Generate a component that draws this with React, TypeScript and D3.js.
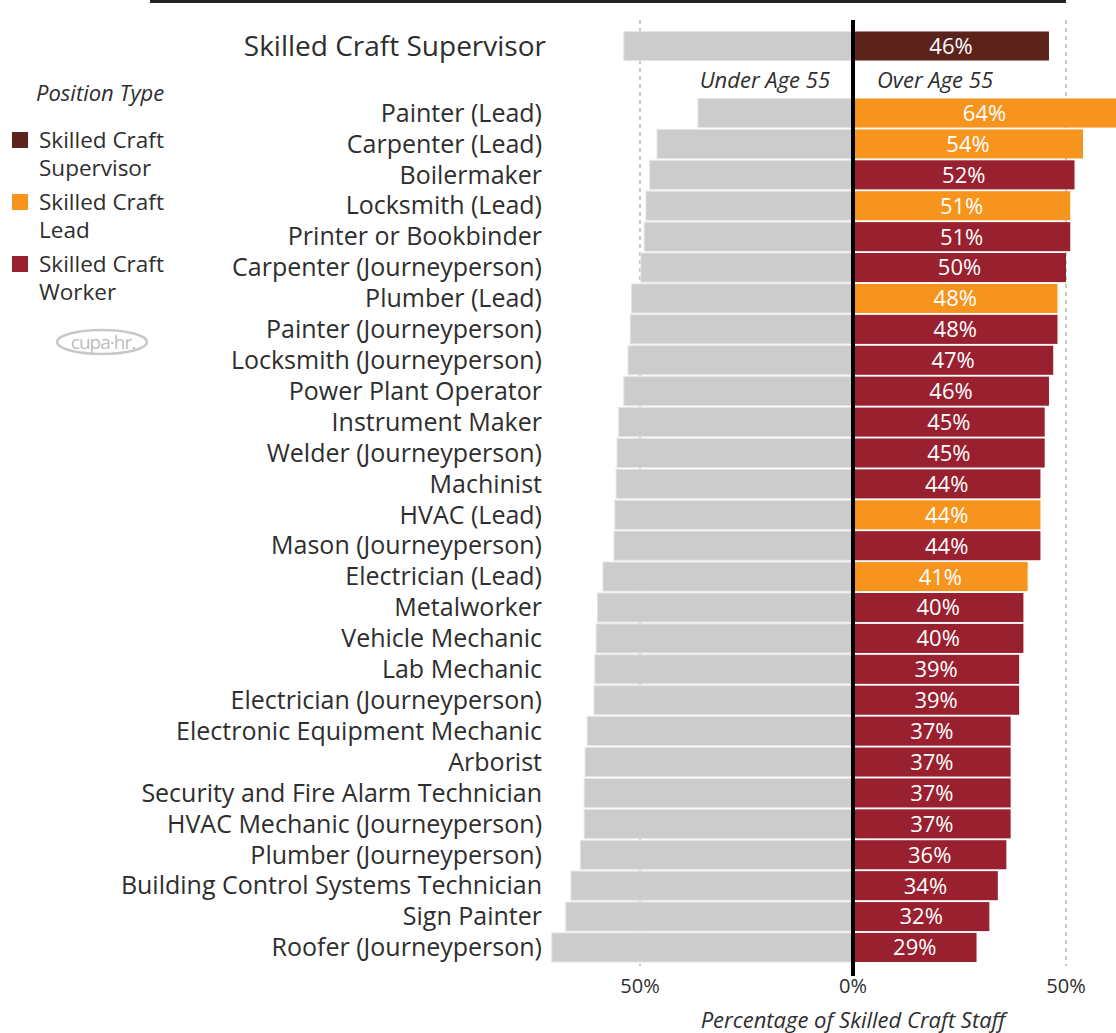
import React from 'react'
import * as d3 from 'd3'

// rows below the supervisor bar, top to bottom
const jobs = [
  'Painter (Lead)',
  'Carpenter (Lead)',
  'Boilermaker',
  'Locksmith (Lead)',
  'Printer or Bookbinder',
  'Carpenter (Journeyperson)',
  'Plumber (Lead)',
  'Painter (Journeyperson)',
  'Locksmith (Journeyperson)',
  'Power Plant Operator',
  'Instrument Maker',
  'Welder (Journeyperson)',
  'Machinist',
  'HVAC (Lead)',
  'Mason (Journeyperson)',
  'Electrician (Lead)',
  'Metalworker',
  'Vehicle Mechanic',
  'Lab Mechanic',
  'Electrician (Journeyperson)',
  'Electronic Equipment Mechanic',
  'Arborist',
  'Security and Fire Alarm Technician',
  'HVAC Mechanic (Journeyperson)',
  'Plumber (Journeyperson)',
  'Building Control Systems Technician',
  'Sign Painter',
  'Roofer (Journeyperson)',
]
const overAge = [64, 54, 52, 51, 51, 50, 48, 48, 47, 46, 45, 45, 44, 44, 44, 41, 40, 40, 39, 39, 37, 37, 37, 37, 36, 34, 32, 29]
const underAge = [36.4, 46, 47.7, 48.6, 49, 49.8, 52, 52.3, 52.8, 53.8, 55, 55.4, 55.6, 55.9, 56.1, 58.7, 60, 60.3, 60.6, 60.8, 62.4, 62.9, 63.1, 63.1, 64, 66.2, 67.4, 70.7]
const positionType = ['lead', 'lead', 'worker', 'lead', 'worker', 'worker', 'lead', 'worker', 'worker', 'worker', 'worker', 'worker', 'worker', 'lead', 'worker', 'lead', 'worker', 'worker', 'worker', 'worker', 'worker', 'worker', 'worker', 'worker', 'worker', 'worker', 'worker', 'worker']

const supervisorLabel = 'Skilled Craft Supervisor'
const supervisorOver = 46
const supervisorUnder = 53.8

const legendTypes = ['supervisor', 'lead', 'worker']
const legendLines = [['Skilled Craft', 'Supervisor'], ['Skilled Craft', 'Lead'], ['Skilled Craft', 'Worker']]
const ticks = [-50, 0, 50]

const colors: any = {supervisor: '#5b231c', lead: '#f7941e', worker: '#99202e'}
const grey = '#cccccc'
const textColor = '#2e2e2e'
const font = '"Open Sans", sans-serif'

function App() {
  const width = 1116
  const height = 1033
  const x = d3.scaleLinear().domain([-50, 50]).range([640, 1066])
  const y = d3.scaleBand().domain(jobs).range([98.5, 962]).paddingInner(0.06)
  const bh = y.bandwidth()
  const supY = 46 - bh / 2
  const pct = d3.format('.0f')

  return (
    <svg width={width} height={height} style={{position: 'absolute', left: 0, top: 0}} fontFamily={font}>
      <rect x={0} y={0} width={width} height={height} fill="#fff" />
      <defs>
        <clipPath id="plot">
          <rect x={0} y={0} width={width} height={height} />
        </clipPath>
      </defs>
      {/* top rule */}
      <rect x={150} y={0} width={916} height={3} fill="#222" />

      {/* grid */}
      {ticks.filter(t => t !== 0).map(t => (
        <line key={t} x1={x(t)} x2={x(t)} y1={20} y2={966} stroke="#aaa" strokeWidth={1.3} strokeDasharray="4,4" />
      ))}

      {/* supervisor */}
      <text x={546} y={46} dy="0.35em" textAnchor="end" fontSize={28} fill={textColor}>
        {supervisorLabel}
      </text>
      <rect x={x(-supervisorUnder)} y={supY} width={x(0) - x(-supervisorUnder)} height={bh} fill={grey} stroke="#e4e4e4" strokeWidth={1} />
      <rect x={x(0)} y={supY} width={x(supervisorOver) - x(0)} height={bh} fill={colors.supervisor} />
      <text x={(x(0) + x(supervisorOver)) / 2} y={46} dy="0.36em" textAnchor="middle" fontSize={22} fill="#fff">
        {pct(supervisorOver)}%
      </text>

      <text x={830} y={80} dy="0.35em" textAnchor="end" fontSize={22} fontStyle="italic" fill={textColor}>
        Under Age 55
      </text>
      <text x={877} y={80} dy="0.35em" textAnchor="start" fontSize={22} fontStyle="italic" fill={textColor}>
        Over Age 55
      </text>

      {/* rows */}
      {jobs.map((j, i) => {
        const yy = y(j) as number
        const cy = yy + bh / 2
        return (
          <g key={j}>
            <text x={542} y={cy} dy="0.35em" textAnchor="end" fontSize={25} fill={textColor}>
              {j}
            </text>
            <rect x={x(-underAge[i])} y={yy} width={x(0) - x(-underAge[i])} height={bh} fill={grey} stroke="#e4e4e4" strokeWidth={1} />
            <rect x={x(0)} y={yy} width={x(overAge[i]) - x(0)} height={bh} fill={colors[positionType[i]]} clipPath="url(#plot)" />
            <text x={(x(0) + Math.min(x(overAge[i]), 1116)) / 2} y={cy} dy="0.36em" textAnchor="middle" fontSize={22} fill="#fff">
              {pct(overAge[i])}%
            </text>
          </g>
        )
      })}

      {/* zero line */}
      <line x1={x(0)} x2={x(0)} y1={20} y2={976} stroke="#000" strokeWidth={4} />

      {/* ticks */}
      {ticks.map(t => (
        <text key={t} x={x(t)} y={986} dy="0.35em" textAnchor="middle" fontSize={20} fill={textColor}>
          {Math.abs(t)}%
        </text>
      ))}
      <text x={853} y={1020} dy="0.35em" textAnchor="middle" fontSize={22} fontStyle="italic" fill={textColor}>
        Percentage of Skilled Craft Staff
      </text>

      {/* legend */}
      <text x={36} y={93} dy="0.35em" fontSize={22} fontStyle="italic" fill={textColor}>
        Position Type
      </text>
      {legendTypes.map((k, i) => {
        const ly = 140 + i * 62
        return (
          <g key={k}>
            <rect x={12} y={ly - 8} width={16} height={16} fill={colors[k]} />
            <text x={39} y={ly} dy="0.35em" fontSize={22.5} fill={textColor}>
              {legendLines[i][0]}
            </text>
            <text x={39} y={ly + 28} dy="0.35em" fontSize={22.5} fill={textColor}>
              {legendLines[i][1]}
            </text>
          </g>
        )
      })}

      {/* logo */}
      <g>
        <ellipse cx={102} cy={342} rx={45} ry={12} fill="none" stroke="#c8c8c8" strokeWidth={2.5} />
        <text x={103} y={342} dy="0.35em" textAnchor="middle" fontSize={19} fill="#bdbdbd" letterSpacing={-1}>
          cupa·hr.
        </text>
      </g>
    </svg>
  )
}

export default App
